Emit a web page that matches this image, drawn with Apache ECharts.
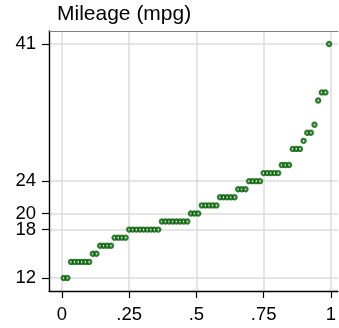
<!DOCTYPE html>
<html>
<head>
<meta charset="utf-8">
<script src="https://cdn.jsdelivr.net/npm/echarts@6/dist/echarts.min.js"></script>
<style>
  html, body { margin: 0; padding: 0; background: #fff; }
  #chart { width: 339px; height: 328px; }
</style>
</head>
<body>
<div id="chart"></div>
<script>
// Mileage values, one per car, in ascending order (quantile plot)
const mpgValues = [
  12, 12,
  14, 14, 14, 14, 14, 14,
  15, 15,
  16, 16, 16, 16,
  17, 17, 17, 17,
  18, 18, 18, 18, 18, 18, 18, 18, 18,
  19, 19, 19, 19, 19, 19, 19, 19,
  20, 20, 20,
  21, 21, 21, 21, 21,
  22, 22, 22, 22, 22,
  23, 23, 23,
  24, 24, 24, 24,
  25, 25, 25, 25, 25,
  26, 26, 26,
  28, 28, 28,
  29,
  30, 30,
  31,
  34,
  35, 35,
  41
];
const yTicks = [12, 18, 20, 24, 41];
const xTicks = [0, 0.25, 0.5, 0.75, 1];
const xTickLabels = ['0', '.25', '.5', '.75', '1'];
const titleText = 'Mileage (mpg)';

// fraction of the data for each sorted value: (i - 0.5) / N
const n = mpgValues.length;
const points = mpgValues.map((v, i) => [(i + 0.5) / n, v]);

const font = 'Liberation Sans, Arial, sans-serif';
const gridColor = '#dcdcdc';
const xMin = -0.0481, xMax = 1.0259;

const chart = echarts.init(document.getElementById('chart'), null, { renderer: 'canvas' });
chart.setOption({
  animation: false,
  title: {
    text: titleText,
    left: 57, top: 4, padding: 0,
    textStyle: { fontFamily: font, fontSize: 21, fontWeight: 'normal', color: '#000' }
  },
  grid: { left: 49, top: 31, width: 290, height: 260, containLabel: false },
  xAxis: [{
    type: 'value',
    min: xMin, max: xMax,
    axisLine: { show: true, onZero: false, lineStyle: { color: '#000', width: 1.4 } },
    axisTick: { show: true, customValues: xTicks, length: 7, lineStyle: { color: '#000', width: 1.2 } },
    axisLabel: {
      customValues: xTicks,
      formatter: v => xTickLabels[xTicks.findIndex(t => Math.abs(t - v) < 1e-9)],
      fontFamily: font, fontSize: 18.5, color: '#000', margin: 14
    },
    splitLine: { show: true, lineStyle: { color: gridColor, width: 1.5 } }
  }, {
    type: 'value', position: 'top',
    min: xMin, max: xMax,
    axisLine: { show: true, onZero: false, lineStyle: { color: '#808080', width: 1.2 } },
    axisTick: { show: false }, axisLabel: { show: false }, splitLine: { show: false }
  }],
  yAxis: {
    type: 'value',
    min: 10.39, max: 42.61,
    axisLine: { show: true, onZero: false, lineStyle: { color: '#000', width: 1.4 } },
    axisTick: { show: true, customValues: yTicks, length: 7, lineStyle: { color: '#000', width: 1.2 } },
    axisLabel: {
      customValues: yTicks,
      fontFamily: font, fontSize: 18.5, color: '#000', margin: 13
    },
    splitLine: { show: true, lineStyle: { color: gridColor, width: 1.5 } }
  },
  series: [{
    type: 'scatter',
    data: points,
    symbol: 'circle',
    symbolSize: 4,
    itemStyle: { color: '#ffffff', borderColor: '#005c00', borderWidth: 2.4 },
    z: 5
  }]
});
</script>
</body>
</html>
